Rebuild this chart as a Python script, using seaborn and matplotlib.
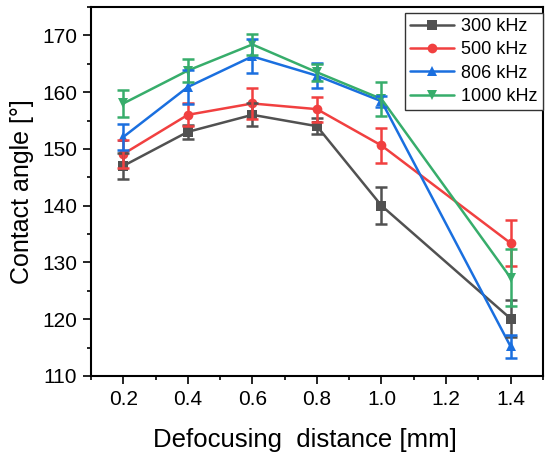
import numpy as np
import pandas as pd
import seaborn as sns
import matplotlib
matplotlib.use("Agg")
import matplotlib.pyplot as plt
from matplotlib.ticker import MultipleLocator

distance = [0.2, 0.4, 0.6, 0.8, 1.0, 1.4]
series_names = ["300 kHz", "500 kHz", "806 kHz", "1000 kHz"]
angle_300 = [147.0, 153.0, 156.0, 154.0, 140.0, 120.1]
err_300 = [2.3, 1.2, 2.0, 1.4, 3.3, 3.2]
angle_500 = [149.1, 156.0, 158.0, 157.0, 150.6, 133.4]
err_500 = [2.5, 2.0, 2.7, 2.2, 3.0, 4.0]
angle_806 = [152.1, 160.9, 166.3, 162.9, 158.4, 115.2]
err_806 = [2.3, 3.0, 3.0, 2.2, 1.0, 2.0]
angle_1000 = [158.0, 163.8, 168.4, 163.5, 158.8, 127.3]
err_1000 = [2.4, 2.0, 1.9, 1.5, 3.0, 5.0]
xtick_labels = ["0.2", "0.4", "0.6", "0.8", "1.0", "1.2", "1.4"]

colors = ["#515151", "#F14040", "#1A6FDF", "#37AD6B"]
markers = ["s", "o", "^", "v"]

sns.set_theme(style="ticks")
plt.rcParams["font.family"] = ["Liberation Sans", "DejaVu Sans"]
plt.rcParams["text.color"] = "black"
plt.rcParams["axes.labelcolor"] = "black"

angles = [angle_300, angle_500, angle_806, angle_1000]
errs = [err_300, err_500, err_806, err_1000]
rows = []
for name, a, e in zip(series_names, angles, errs):
    for x, y, s in zip(distance, a, e):
        rows.append({"Distance": x, "Angle": y, "Err": s, "Freq": name})
df = pd.DataFrame(rows)

fig = plt.figure(figsize=(5.45, 4.54), dpi=100)
ax = fig.add_axes([0.167, 0.172, 0.829, 0.8126])

sns.lineplot(data=df, x="Distance", y="Angle", hue="Freq", style="Freq",
             palette=colors, markers=markers, dashes=False, ax=ax,
             linewidth=1.8, markersize=7, markeredgewidth=0, errorbar=None,
             hue_order=series_names, style_order=series_names)

for name, c in zip(series_names, colors):
    sub = df[df["Freq"] == name]
    ax.errorbar(sub["Distance"], sub["Angle"], yerr=sub["Err"], fmt="none",
                ecolor=c, elinewidth=1.8, capsize=4, capthick=1.8, zorder=3)

ax.set_xlim(0.1, 1.5)
ax.set_ylim(110, 175)
ax.xaxis.set_minor_locator(MultipleLocator(0.1))
ax.yaxis.set_major_locator(MultipleLocator(10))
ax.yaxis.set_minor_locator(MultipleLocator(5))
ax.set_xticks([float(t) for t in xtick_labels])
ax.set_xticklabels(xtick_labels)
ax.tick_params(axis="both", which="major", direction="out", length=6, width=1.2,
               labelsize=15, color="black", labelcolor="black", pad=4)
ax.tick_params(axis="both", which="minor", direction="out", length=3, width=1.2, color="black")
for sp in ax.spines.values():
    sp.set_linewidth(1.5)
    sp.set_color("black")

ax.set_xlabel("Defocusing  distance [mm]", fontsize=18.5, color="black")
ax.xaxis.set_label_coords(0.474, -0.14)
ax.set_ylabel("Contact angle [°]", fontsize=18, labelpad=6, color="black")

leg = ax.legend(loc="upper right", bbox_to_anchor=(1.0, 0.985), fontsize=13,
                frameon=True, fancybox=False, edgecolor="#333333", framealpha=1,
                borderaxespad=0, handlelength=2.4, handletextpad=0.4,
                labelspacing=0.35, borderpad=0.3)
leg.get_frame().set_linewidth(1.0)
for t in leg.get_texts():
    t.set_color("black")

fig.savefig("out.png", dpi=100)
